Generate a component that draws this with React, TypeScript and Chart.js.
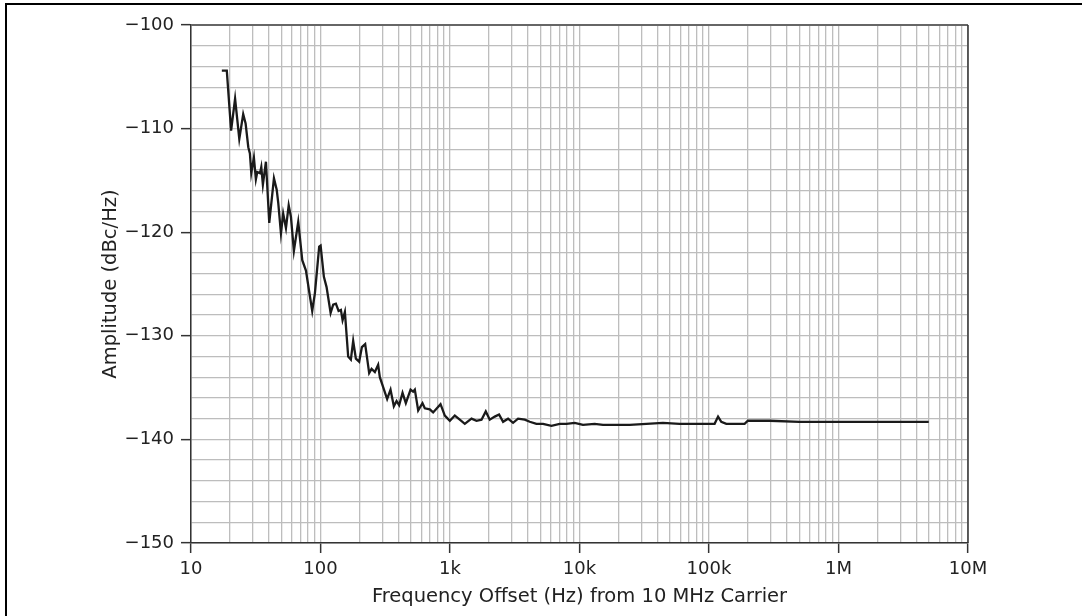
import React, { useEffect, useRef } from "react";
import { Chart, registerables } from "chart.js";

Chart.register(...registerables);

const freqHz = [
  17.3, 18.9, 20.4, 21.9, 23.6, 25.3, 26.4, 27.7, 28.5, 29.2,
  30.6, 31.7, 32.5, 34.1, 34.9, 35.9, 37.9, 40.2, 43.7, 45.9,
  47.2, 49.5, 51.5, 54.1, 56.8, 59.1, 62.3, 67.3, 72.3, 77.2,
  83.6, 86.3, 90.5, 97.7, 100.2, 106.2, 111.4, 119.7, 125.3, 131.5,
  137.9, 143.7, 148.1, 154.3, 163.6, 171.6, 178.8, 187.6, 198.9, 208.6,
  221.3, 237.6, 248, 262.9, 278.7, 287.2, 327.1, 347.4, 368.5, 386.6,
  405, 430, 456, 496, 519, 535, 568, 613, 639, 698,
  741, 845, 912, 997, 1089, 1190, 1301, 1466, 1602, 1751,
  1889, 2028, 2217, 2393, 2569, 2808, 3069, 3354, 3778, 4129,
  4650, 5228, 6071, 7034, 7925, 9184, 10640, 13100, 15180, 24400,
  44100, 59300, 84600, 110500, 117500, 124400, 136000, 188200, 199600, 293600,
  500000, 1216000, 2072000, 4975000,
];

const ampDbcHz = [
  -104.4, -104.4, -110.2, -107.1, -111.0, -108.6, -109.5, -111.8, -112.4, -114.3,
  -112.8, -114.9, -114.2, -114.3, -113.7, -115.4, -113.2, -119.1, -114.8, -115.9,
  -117.2, -120.1, -118.2, -119.6, -117.4, -118.5, -121.8, -119.0, -122.7, -123.7,
  -126.5, -127.6, -125.9, -121.4, -121.3, -124.3, -125.3, -127.8, -127.0, -126.9,
  -127.6, -127.5, -128.5, -127.7, -132.0, -132.3, -130.5, -132.2, -132.5, -131.1,
  -130.8, -133.6, -133.2, -133.5, -132.8, -134.0, -136.1, -135.2, -136.8, -136.3,
  -136.7, -135.5, -136.5, -135.2, -135.4, -135.2, -137.2, -136.5, -137.0, -137.1,
  -137.4, -136.6, -137.7, -138.2, -137.7, -138.1, -138.5, -138.0, -138.2, -138.1,
  -137.3, -138.1, -137.8, -137.6, -138.3, -138.0, -138.4, -138.0, -138.1, -138.3,
  -138.5, -138.5, -138.7, -138.5, -138.5, -138.4, -138.6, -138.5, -138.6, -138.6,
  -138.4, -138.5, -138.5, -138.5, -137.8, -138.3, -138.5, -138.5, -138.2, -138.2,
  -138.3, -138.3, -138.3, -138.3,
];

const xDecades = [10, 100, 1000, 10000, 100000, 1000000, 10000000];
const xDecadeLabels = ["10", "100", "1k", "10k", "100k", "1M", "10M"];
const yMajorValues = [-150, -140, -130, -120, -110, -100];
const yMajorLabels = ["\u2212150", "\u2212140", "\u2212130", "\u2212120", "\u2212110", "\u2212100"];
const xTitle = "Frequency Offset (Hz) from 10 MHz Carrier";
const yTitle = "Amplitude (dBc/Hz)";

const FONT = "'DejaVu Sans', 'Liberation Sans', Arial, sans-serif";
const TEXT = "#222222";

function xLabelFor(v: number): string {
  const i = xDecades.findIndex((d) => Math.abs(d - v) / d < 1e-9);
  return i >= 0 ? xDecadeLabels[i] : "";
}
function yLabelFor(v: number): string {
  const i = yMajorValues.findIndex((d) => Math.abs(d - v) < 1e-9);
  return i >= 0 ? yMajorLabels[i] : "";
}

const framePlugin = {
  id: "frame",
  afterDatasetsDraw(chart: any) {
    const { ctx, chartArea } = chart;
    const { left, right, top, bottom } = chartArea;
    ctx.save();
    ctx.lineWidth = 2;
    ctx.strokeStyle = "#666666";
    ctx.beginPath();
    ctx.moveTo(left, top);
    ctx.lineTo(right, top);
    ctx.stroke();
    ctx.lineWidth = 1.5;
    ctx.strokeStyle = "#333333";
    ctx.beginPath();
    ctx.moveTo(right, top);
    ctx.lineTo(right, bottom);
    ctx.stroke();
    ctx.restore();
  },
};

export default function App() {
  const ref = useRef<HTMLCanvasElement>(null);

  useEffect(() => {
    if (!ref.current) return;
    const points = freqHz.map((f, i) => ({ x: f, y: ampDbcHz[i] }));
    const xTickValues: number[] = [];
    for (let d = 0; d < xDecades.length - 1; d++) {
      for (let m = 1; m <= 9; m++) xTickValues.push(xDecades[d] * m);
    }
    xTickValues.push(xDecades[xDecades.length - 1]);

    const chart = new Chart(ref.current, {
      type: "line",
      data: {
        datasets: [
          {
            data: points,
            borderColor: "#1a1a1a",
            borderWidth: 2.3,
            pointRadius: 0,
            tension: 0,
            fill: false,
          },
        ],
      },
      options: {
        responsive: false,
        animation: false,
        events: [],
        layout: { padding: { left: 0, top: 25, right: 114, bottom: 0 } },
        plugins: {
          legend: { display: false },
          tooltip: { enabled: false },
          title: { display: false },
        },
        scales: {
          x: {
            type: "logarithmic",
            min: 10,
            max: 10000000,
            afterBuildTicks: (scale: any) => {
              scale.ticks = xTickValues.map((v) => ({ value: v }));
            },
            afterFit: (scale: any) => {
              scale.height = 73;
            },
            grid: {
              color: "#bdbdbd",
              lineWidth: 1.3,
              tickLength: 10,
              tickWidth: 1.5,
              tickColor: (c: any) =>
                c.tick && xLabelFor(c.tick.value) ? "#333333" : "rgba(0,0,0,0)",
            },
            border: { display: true, color: "#333333", width: 1.5 },
            ticks: {
              autoSkip: false,
              maxRotation: 0,
              padding: 6,
              color: TEXT,
              font: { family: FONT, size: 18 },
              callback: (v: any) => xLabelFor(Number(v)),
            },
            title: {
              display: true,
              text: xTitle,
              color: TEXT,
              font: { family: FONT, size: 19.5 },
              padding: { top: 0, bottom: 7 },
            },
          },
          y: {
            type: "linear",
            min: -150,
            max: -100,
            afterBuildTicks: (scale: any) => {
              const t: any[] = [];
              for (let v = -150; v <= -100; v += 2) t.push({ value: v });
              scale.ticks = t;
            },
            afterFit: (scale: any) => {
              scale.width = 191;
            },
            grid: {
              color: "#bdbdbd",
              lineWidth: 1.3,
              tickLength: 10,
              tickWidth: 1.5,
              tickColor: (c: any) =>
                c.tick && yLabelFor(c.tick.value) ? "#333333" : "rgba(0,0,0,0)",
            },
            border: { display: true, color: "#333333", width: 1.5 },
            ticks: {
              autoSkip: false,
              padding: 7,
              color: TEXT,
              font: { family: FONT, size: 18 },
              callback: (v: any) => yLabelFor(Number(v)),
            },
            title: {
              display: true,
              text: yTitle,
              color: TEXT,
              font: { family: FONT, size: 19.5 },
              padding: { top: 99, bottom: 0 },
            },
          },
        },
      },
      plugins: [framePlugin],
    });
    return () => chart.destroy();
  }, []);

  return (
    <div
      style={{
        position: "fixed",
        left: 0,
        top: 0,
        width: 1082,
        height: 616,
        background: "#ffffff",
        overflow: "hidden",
      }}
    >
      <canvas ref={ref} width={1082} height={616} style={{ display: "block" }} />
      <div
        style={{
          position: "absolute",
          left: 5,
          top: 3,
          width: 1200,
          height: 800,
          borderTop: "2px solid #000",
          borderLeft: "2px solid #000",
          pointerEvents: "none",
        }}
      />
    </div>
  );
}
